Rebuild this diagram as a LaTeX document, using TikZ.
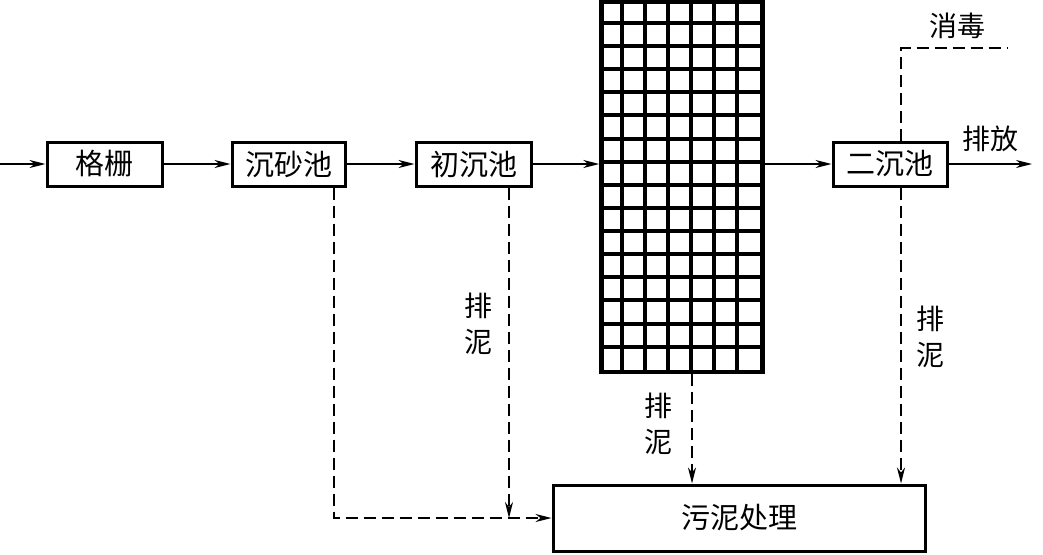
\documentclass[tikz,border=0pt]{standalone}
\usepackage{fontspec}
\newfontfamily\cjk{Noto Sans CJK SC}
\usetikzlibrary{arrows.meta}
\begin{document}
\begin{tikzpicture}[x=1pt,y=-1pt,
  box/.style={draw, line width=3pt, minimum height=44pt, inner sep=0pt, font=\cjk\fontsize{29}{29}\selectfont},
  flow/.style={line width=1.8pt, -{Stealth[length=16pt,width=8pt,inset=5pt]}},
  sludge/.style={flow, dash pattern=on 12pt off 6pt},
  dashes/.style={line width=1.8pt, dash pattern=on 12pt off 6pt},
  lbl/.style={inner sep=0pt, align=center, font=\cjk\fontsize{28}{36}\selectfont}]
\useasboundingbox (0,0) rectangle (1043,554);
\node[box, minimum width=115pt] (ge) at (104.5,164) {格栅};
\node[box, minimum width=113pt] (sha) at (288.5,164) {沉砂池};
\node[box, minimum width=115pt] (chu) at (473.5,164) {初沉池};
\node[box, minimum width=114pt] (er) at (890,164) {二沉池};
\node[box, minimum width=372pt, minimum height=66pt] (wn) at (739,518) {污泥处理};
\node[draw, line width=4.5pt, minimum width=161pt, minimum height=370pt, inner sep=0pt] (grid) at (682,187) {};
\foreach \i in {1,...,6}
  \draw[line width=4pt] ([xshift=\i*23pt]grid.north west) -- ([xshift=\i*23pt]grid.south west);
\foreach \i in {1,...,15}
  \draw[line width=4pt] ([yshift=-\i*23.125pt]grid.north west) -- ([yshift=-\i*23.125pt]grid.north east);
\coordinate (in) at (0,164);
\coordinate (out) at (1032,164);
\draw[flow] (in) -- (ge);
\draw[flow] (ge) -- (sha);
\draw[flow] (sha) -- (chu);
\draw[flow] (chu) -- (grid.west |- chu);
\draw[flow] (grid.east |- er) -- (er);
\draw[flow] (er) -- (out);
\node[lbl] (pf) at (990,139) {排放};
\coordinate (c1) at (334,518);
\coordinate (c2) at (509,518);
\coordinate (c3) at (692,0);
\coordinate (c4) at (901,0);
\coordinate (c5) at (901,48);
\coordinate (c6) at (1008,48);
\draw[sludge] (sha.south -| c1) -- (c1) -- (wn.west);
\draw[sludge] (chu.south -| c2) -- (c2);
\draw[sludge] (grid.south -| c3) -- (wn.north -| c3);
\draw[sludge] (er.south -| c4) -- (wn.north -| c4);
\draw[dashes] (er.north -| c5) -- (c5) -- (c6);
\node[lbl] (xd) at (957,26) {消毒};
\node[lbl] (p1) at (478,324) {排\\泥};
\node[lbl] (p2) at (658,424) {排\\泥};
\node[lbl] (p3) at (930,337) {排\\泥};
\end{tikzpicture}
\end{document}
